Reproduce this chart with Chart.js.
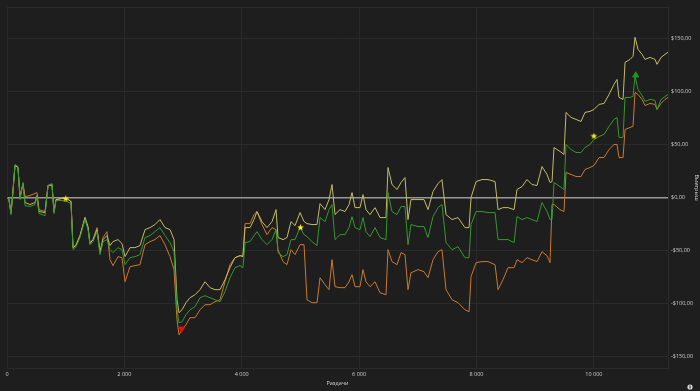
<!DOCTYPE html>
<html>
<head>
<meta charset="utf-8">
<script src="https://cdn.jsdelivr.net/npm/chart.js@4.4.1/dist/chart.umd.min.js"></script>
<style>
    html, body { margin: 0; padding: 0; background: #1e1e1e; }
    #wrap { width: 700px; height: 391px; }
</style>
</head>
<body>
<div id="wrap"><canvas id="myChart" width="700" height="391"></canvas></div>
<script>
// hands played (x) and cumulative winnings in $ for the three lines
const hands = [
    0, 34, 68, 102, 136, 187, 222, 273, 307, 392,
    477, 511, 545, 648, 699, 767, 801, 835, 937, 1022,
    1091, 1125, 1176, 1244, 1329, 1380, 1414, 1465, 1534, 1585,
    1636, 1704, 1755, 1806, 1891, 1960, 2011, 2096, 2181, 2266,
    2352, 2437, 2522, 2607, 2692, 2778, 2846, 2897, 2931, 2982,
    3050, 3118, 3204, 3289, 3374, 3459, 3544, 3630, 3715, 3800,
    3885, 3970, 4021, 4056, 4141, 4209, 4260, 4345, 4430, 4516,
    4584, 4618, 4703, 4771, 4839, 4908, 4993, 5061, 5112, 5197,
    5282, 5334, 5419, 5487, 5538, 5589, 5674, 5760, 5828, 5879,
    5930, 6015, 6066, 6117, 6186, 6271, 6356, 6458, 6492, 6560,
    6646, 6714, 6782, 6833, 6884, 7003, 7106, 7174, 7259, 7344,
    7412, 7481, 7583, 7685, 7804, 7873, 7907, 7992, 8094, 8196,
    8316, 8367, 8452, 8537, 8640, 8690, 8776, 8861, 8946, 9031,
    9116, 9202, 9253, 9287, 9321, 9423, 9491, 9525, 9611, 9696,
    9781, 9849, 9934, 10002, 10088, 10173, 10258, 10343, 10394, 10428,
    10497, 10531, 10616, 10667, 10701, 10752, 10820, 10872, 10957, 11042,
    11076, 11144, 11212, 11263
];

const yellowLine = [
    0, -1.9, -15.1, 5.7, 30.3, 28.4, 0, 13.2, -4.7, -6.6,
    -4.7, 1.9, -13.2, -14.2, 11.4, 12.3, -13.2, -1.9, -0.9, -0.9,
    -3.8, -47.3, -45.4, -35.9, -18.9, -27.4, -43.5, -39.7, -30.3, -51.1,
    -39.7, -35.9, -45.4, -41.6, -39.7, -43.5, -55.8, -47.3, -47.3, -45.4,
    -30.3, -28.4, -25.5, -20.8, -28.4, -30.3, -39.7, -96.5, -108.8, -106.0,
    -99.3, -94.6, -91.8, -87.0, -79.5, -85.1, -87.0, -87.0, -77.6, -66.2,
    -56.8, -54.9, -55.8, -28.4, -28.4, -20.8, -13.2, -22.7, -28.4, -22.7,
    -11.4, -37.8, -39.7, -37.8, -22.7, -26.5, -14.2, -22.7, -24.6, -25.5,
    -25.5, -5.7, -11.4, -1.9, 12.3, -16.1, -11.4, -13.2, -6.6, 4.7,
    -9.5, -9.5, 2.8, -11.4, -16.1, -9.5, -18.9, -18.9, 28.4, 12.3,
    7.6, 14.2, 18.9, -20.8, -1.9, -1.9, -1.9, -11.4, 5.7, 13.2,
    17.0, -16.1, -20.8, -18.9, -28.4, -28.4, 0, 15.1, 17.0, 17.0,
    15.1, -11.4, -9.5, -9.5, -11.4, 7.6, 10.4, 17.0, 12.3, 11.4,
    29.3, 21.8, 14.2, 15.1, 47.3, 43.5, 40.7, 80.4, 75.7, 73.8,
    71.9, 80.4, 81.4, 83.2, 88.0, 88.9, 97.4, 106.9, 111.6, 94.6,
    92.7, 127.7, 130.5, 133.4, 151.4, 140.0, 135.3, 130.5, 132.4, 130.5,
    125.8, 132.4, 135.3, 137.2
];

const greenLine = [
    0, -1.9, -16.1, 5.7, 31.2, 29.3, -1.9, 14.2, -7.6, -8.5,
    -6.6, 0.9, -15.1, -17.0, 11.4, 13.2, -15.1, -2.8, -2.8, -3.8,
    -5.7, -49.2, -46.4, -37.8, -20.8, -30.3, -44.5, -41.6, -32.2, -53.9,
    -41.6, -39.7, -49.2, -52.0, -47.3, -49.2, -63.4, -56.8, -55.8, -53.9,
    -37.8, -35.9, -32.2, -28.4, -35.9, -42.6, -51.1, -106.0, -118.3, -117.3,
    -110.7, -106.0, -103.1, -94.6, -92.7, -94.6, -96.5, -98.4, -88.9, -75.7,
    -66.2, -64.3, -66.2, -42.6, -41.6, -35.9, -32.2, -39.7, -44.5, -39.7,
    -30.3, -52.0, -55.8, -53.9, -39.7, -39.7, -28.4, -35.0, -36.9, -41.6,
    -45.4, -18.9, -22.7, -11.4, -6.6, -39.7, -35.0, -35.0, -28.4, -18.0,
    -28.4, -30.3, -18.9, -32.2, -36.9, -28.4, -37.8, -39.7, 4.7, -13.2,
    -16.1, -8.5, -8.5, -44.5, -25.5, -27.4, -27.4, -37.8, -18.0, -9.5,
    -6.6, -42.6, -49.2, -46.4, -56.8, -56.8, -25.5, -13.2, -13.2, -14.2,
    -14.2, -39.7, -39.7, -39.7, -42.6, -18.0, -20.8, -18.9, -20.8, -22.7,
    -4.7, -13.2, -20.8, -20.8, 14.2, 10.4, 7.6, 50.1, 45.4, 42.6,
    42.6, 47.3, 50.1, 54.9, 57.7, 59.6, 67.2, 73.8, 75.7, 56.8,
    56.8, 94.6, 94.6, 95.5, 114.5, 102.2, 96.5, 90.8, 92.7, 91.8,
    83.2, 92.7, 95.5, 97.4
];

const orangeLine = [
    0, -1.9, -14.2, 7.6, 30.3, 28.4, 1.9, 13.2, 0.9, 1.9,
    3.8, 4.7, -11.4, -13.2, 11.4, 11.4, -13.2, -1.9, -0.9, -0.9,
    -3.8, -47.3, -44.5, -35.9, -18.9, -28.4, -42.6, -39.7, -28.4, -52.0,
    -37.8, -32.2, -58.7, -64.3, -55.8, -56.8, -79.5, -65.3, -64.3, -63.4,
    -44.5, -41.6, -39.7, -35.9, -44.5, -55.8, -68.1, -115.4, -129.6, -124.9,
    -120.1, -113.5, -113.5, -106.0, -101.2, -101.2, -98.4, -96.5, -79.5, -63.4,
    -56.8, -54.9, -54.9, -24.6, -24.6, -16.1, -13.2, -25.5, -35.0, -28.4,
    -30.3, -49.2, -60.5, -63.4, -49.2, -53.9, -44.5, -44.5, -96.5, -99.3,
    -99.3, -75.7, -82.3, -87.0, -58.7, -84.2, -85.1, -85.1, -79.5, -72.8,
    -84.2, -84.2, -68.1, -79.5, -84.2, -79.5, -89.9, -91.8, -49.2, -60.5,
    -63.4, -52.0, -53.9, -87.0, -71.0, -68.1, -70.0, -75.7, -58.7, -51.1,
    -49.2, -87.0, -96.5, -99.3, -106.0, -107.8, -74.7, -61.5, -60.5, -60.5,
    -63.4, -87.0, -77.6, -66.2, -66.2, -58.7, -61.5, -56.8, -58.7, -60.5,
    -51.1, -54.9, -61.5, -6.6, -6.6, -11.4, -13.2, 23.7, 21.8, 19.9,
    19.9, 26.5, 28.4, 30.3, 37.8, 37.8, 45.4, 50.1, 50.1, 37.8,
    37.8, 64.3, 66.2, 67.2, 99.3, 97.4, 92.7, 87.0, 88.9, 88.0,
    83.2, 88.9, 92.7, 94.6
];

// milestone stars, lowest and highest points
const starHands = [1000, 5000, 10000];
const starValues = [-1.2, -28.4, 58.0];
const lowHands = [2977];
const lowValues = [-124];
const highHands = [10713];
const highValues = [115.5];

const yTicks = [-150, -100, -50, 0, 50, 100, 150];
const xTicks = [0, 2000, 4000, 6000, 8000, 10000];

function toPoints(xs, ys) {
    return xs.map(function (x, i) { return { x: x, y: ys[i] }; });
}

function makeStar(size, color) {
    const c = document.createElement('canvas');
    c.width = size;
    c.height = size;
    const g = c.getContext('2d');
    g.beginPath();
    for (let i = 0; i < 10; i++) {
        const a = -Math.PI / 2 + i * Math.PI / 5;
        const r = i % 2 ? size * 0.22 : size * 0.5;
        g.lineTo(size / 2 + r * Math.cos(a), size / 2 + r * Math.sin(a));
    }
    g.closePath();
    g.fillStyle = color;
    g.fill();
    return c;
}

const frame = {
    id: 'frame',
    beforeDatasetsDraw: function (chart) {
        const a = chart.chartArea;
        const ctx = chart.ctx;
        ctx.save();
        ctx.strokeStyle = '#2a2a2a';
        ctx.lineWidth = 1;
        ctx.strokeRect(a.left + 0.5, a.top + 0.5, a.right - a.left, a.bottom - a.top);
        ctx.restore();
    },
    afterDraw: function (chart) {
        const ctx = chart.ctx;
        ctx.save();
        ctx.fillStyle = '#d8d8d8';
        ctx.beginPath();
        ctx.arc(690, 387, 2.6, 0, Math.PI * 2);
        ctx.fill();
        ctx.fillStyle = '#1e1e1e';
        ctx.fillRect(689.5, 385.5, 1, 3);
        ctx.restore();
    }
};

Chart.defaults.font.family = "'Open Sans', sans-serif";
Chart.defaults.font.size = 5.5;
Chart.defaults.color = '#cfcfcf';

const config = {
    type: 'line',
    data: {
        datasets: [{
            label: 'stars',
            data: toPoints(starHands, starValues),
            showLine: false,
            pointStyle: makeStar(7, '#ffe81a'),
            pointRadius: 3.5
        }, {
            label: 'low',
            data: toPoints(lowHands, lowValues),
            showLine: false,
            pointStyle: 'triangle',
            rotation: 180,
            pointRadius: 3.5,
            backgroundColor: '#e01010',
            borderColor: '#e01010'
        }, {
            label: 'high',
            data: toPoints(highHands, highValues),
            showLine: false,
            pointStyle: 'triangle',
            pointRadius: 3.5,
            backgroundColor: '#169a1a',
            borderColor: '#169a1a'
        }, {
            label: 'green',
            data: toPoints(hands, greenLine),
            borderColor: '#329a2c',
            borderWidth: 1,
            pointRadius: 0
        }, {
            label: 'yellow',
            data: toPoints(hands, yellowLine),
            borderColor: '#c3bd68',
            borderWidth: 1,
            pointRadius: 0
        }, {
            label: 'orange',
            data: toPoints(hands, orangeLine),
            borderColor: '#cc7a2a',
            borderWidth: 1,
            pointRadius: 0
        }]
    },
    options: {
        responsive: false,
        animation: false,
        layout: { padding: { left: 7, top: 7, right: 0, bottom: 0 } },
        plugins: {
            legend: { display: false },
            tooltip: { enabled: false }
        },
        scales: {
            x: {
                type: 'linear',
                min: 0,
                max: 11263,
                afterFit: function (scale) { scale.height = 23; },
                afterBuildTicks: function (scale) {
                    scale.ticks = xTicks.map(function (v) { return { value: v }; });
                },
                grid: { color: '#2a2a2a', drawTicks: false },
                border: { display: false },
                ticks: {
                    padding: 3,
                    maxRotation: 0,
                    autoSkip: false,
                    callback: function (v) {
                        return String(v).replace(/\B(?=(\d{3})+(?!\d))/g, ' ');
                    }
                },
                title: { display: true, text: 'Раздачи', padding: { top: 0, bottom: 4 } }
            },
            y: {
                position: 'right',
                min: -161,
                max: 180,
                afterFit: function (scale) { scale.width = 32; },
                afterBuildTicks: function (scale) {
                    scale.ticks = yTicks.map(function (v) { return { value: v }; });
                },
                grid: {
                    drawTicks: false,
                    color: function (ctx) {
                        return ctx.tick && ctx.tick.value === 0 ? '#989898' : '#2a2a2a';
                    },
                    lineWidth: function (ctx) {
                        return ctx.tick && ctx.tick.value === 0 ? 1.6 : 1;
                    }
                },
                border: { display: false },
                ticks: {
                    padding: 3,
                    callback: function (v) {
                        return (v < 0 ? '-' : '') + '$' + Math.abs(v).toFixed(2).replace('.', ',');
                    }
                },
                title: { display: true, text: 'Выигрыш', padding: { top: 0, bottom: 4 } }
            }
        }
    },
    plugins: [frame]
};

const myChart = new Chart(
    document.getElementById('myChart'),
    config
);
</script>
</body>
</html>
